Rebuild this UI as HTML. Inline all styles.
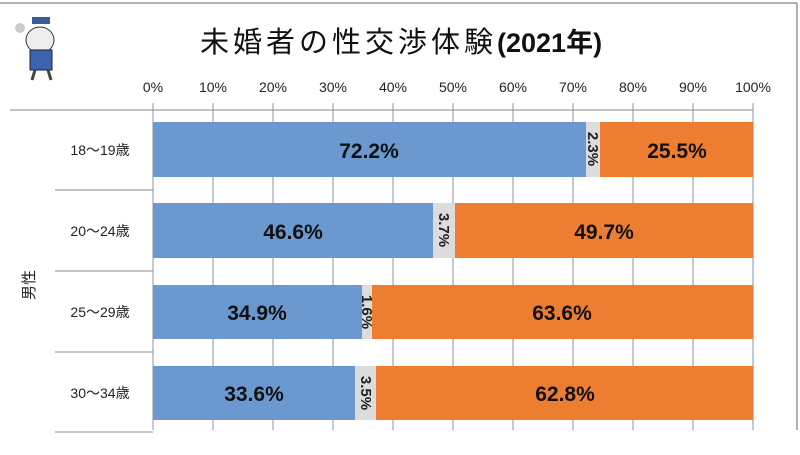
<!DOCTYPE html>
<html><head><meta charset="utf-8"><style>
body{margin:0;background:#fff}
svg text{font-family:"Liberation Sans","Noto Sans CJK JP",sans-serif}
</style></head><body>
<svg width="800" height="450" xmlns="http://www.w3.org/2000/svg">
<rect x="0" y="0" width="800" height="450" fill="#fff"/>
<line x1="0" y1="3" x2="797" y2="3" stroke="#999" stroke-width="1.5"/>
<line x1="797" y1="3" x2="797" y2="430" stroke="#999" stroke-width="1.5"/>
<g>
<ellipse cx="40" cy="40" rx="14" ry="13" fill="#eee" stroke="#333"/>
<rect x="32" y="17" width="18" height="7" fill="#3a5c9a"/>
<rect x="30" y="50" width="22" height="20" fill="#3d62b0" stroke="#223"/>
<line x1="35" y1="70" x2="32" y2="80" stroke="#444" stroke-width="3"/>
<line x1="48" y1="70" x2="51" y2="80" stroke="#444" stroke-width="3"/>
<circle cx="20" cy="28" r="5" fill="#ccc"/>
</g>
<text x="200" y="52" font-size="29" fill="#111"><tspan letter-spacing="4">未婚者の性交渉体験</tspan><tspan font-weight="bold" font-size="27">(2021年)</tspan></text>
<g font-size="14" fill="#222" text-anchor="middle">
<text x="153" y="92">0%</text><text x="213" y="92">10%</text><text x="273" y="92">20%</text><text x="333" y="92">30%</text><text x="393" y="92">40%</text><text x="453" y="92">50%</text><text x="513" y="92">60%</text><text x="573" y="92">70%</text><text x="633" y="92">80%</text><text x="693" y="92">90%</text><text x="753" y="92">100%</text>
</g>
<line x1="10" y1="110" x2="753" y2="110" stroke="#888"/>
<g stroke="#8a93a8" stroke-width="1">
<line x1="153" y1="103" x2="153" y2="430"/><line x1="213" y1="103" x2="213" y2="430"/><line x1="273" y1="103" x2="273" y2="430"/><line x1="333" y1="103" x2="333" y2="430"/><line x1="393" y1="103" x2="393" y2="430"/><line x1="453" y1="103" x2="453" y2="430"/><line x1="513" y1="103" x2="513" y2="430"/><line x1="573" y1="103" x2="573" y2="430"/><line x1="633" y1="103" x2="633" y2="430"/><line x1="693" y1="103" x2="693" y2="430"/><line x1="753" y1="103" x2="753" y2="430"/>
</g>
<g stroke="#888"><line x1="55" y1="190" x2="153" y2="190"/><line x1="55" y1="271" x2="153" y2="271"/><line x1="55" y1="352" x2="153" y2="352"/><line x1="55" y1="432" x2="153" y2="432"/></g>
<g font-size="14" fill="#222" text-anchor="middle">
<text x="100" y="155">18〜19歳</text><text x="100" y="236">20〜24歳</text><text x="100" y="317">25〜29歳</text><text x="100" y="398">30〜34歳</text>
</g>
<text transform="translate(34,285) rotate(-90)" font-size="15" fill="#222" text-anchor="middle">男性</text>
<g>
<rect x="153" y="122" width="433" height="55" fill="#6a98cf"/><rect x="586" y="122" width="14" height="55" fill="#dcdcdc"/><rect x="600" y="122" width="153" height="55" fill="#ed7d31"/>
<rect x="153" y="203" width="280" height="55" fill="#6a98cf"/><rect x="433" y="203" width="22" height="55" fill="#dcdcdc"/><rect x="455" y="203" width="298" height="55" fill="#ed7d31"/>
<rect x="153" y="285" width="209" height="54" fill="#6a98cf"/><rect x="362" y="285" width="10" height="54" fill="#dcdcdc"/><rect x="372" y="285" width="381" height="54" fill="#ed7d31"/>
<rect x="153" y="366" width="202" height="54" fill="#6a98cf"/><rect x="355" y="366" width="21" height="54" fill="#dcdcdc"/><rect x="376" y="366" width="377" height="54" fill="#ed7d31"/>
</g>
<g font-size="21" font-weight="bold" fill="#111" text-anchor="middle">
<text x="369" y="158">72.2%</text><text x="677" y="158">25.5%</text>
<text x="293" y="239">46.6%</text><text x="604" y="239">49.7%</text>
<text x="257" y="320">34.9%</text><text x="562" y="320">63.6%</text>
<text x="254" y="401">33.6%</text><text x="565" y="401">62.8%</text>
</g>
<g font-size="15" font-weight="bold" fill="#222" text-anchor="middle">
<text transform="translate(588,149) rotate(90)">2.3%</text>
<text transform="translate(439,230) rotate(90)">3.7%</text>
<text transform="translate(362,312) rotate(90)">1.6%</text>
<text transform="translate(361,393) rotate(90)">3.5%</text>
</g>
</svg>
</body></html>
